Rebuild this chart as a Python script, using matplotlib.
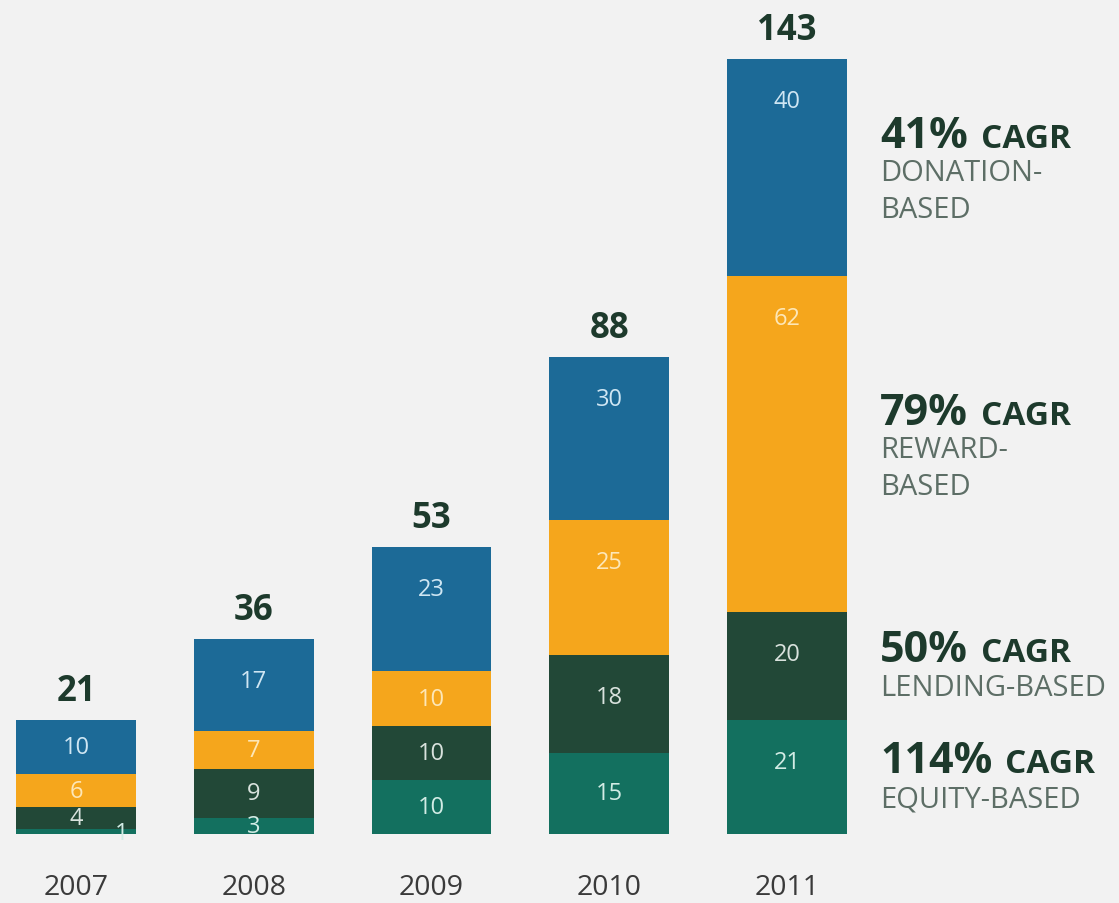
import matplotlib
matplotlib.use("Agg")
import matplotlib.pyplot as plt
import numpy as np

years = ["2007", "2008", "2009", "2010", "2011"]
equity = [1, 3, 10, 15, 21]
lending = [4, 9, 10, 18, 20]
reward = [6, 7, 10, 25, 62]
donation = [10, 17, 23, 30, 40]
totals = [21, 36, 53, 88, 143]

series = [equity, lending, reward, donation]
colors = ["#13705f", "#224837", "#f5a61c", "#1c6a97"]
label_colors = ["#d2ece5", "#d9e2dd", "#fde7b8", "#cfe6f3"]
cagr_pct = ["114%", "50%", "79%", "41%"]
cagr_names = [["EQUITY-BASED"], ["LENDING-BASED"], ["REWARD-", "BASED"], ["DONATION-", "BASED"]]

bg = "#f2f2f2"
plt.rcParams['font.family'] = ['Open Sans', 'DejaVu Sans']

fig = plt.figure(figsize=(11.19, 9.04), dpi=100, facecolor=bg)
ax = fig.add_axes([0, 69/904, 1, 775/904])
ax.set_facecolor(bg)
x = np.arange(len(years))
px_per_unit = 177.75
ax.set_xlim(-76/px_per_unit, (1119-76)/px_per_unit)
ax.set_ylim(0, 143)
for s in ax.spines.values():
    s.set_visible(False)
ax.set_xticks([]); ax.set_yticks([])

bar_w = 0.675
bottom = np.zeros(len(years))
unit_px = 775/143
for si, (vals, c, lc) in enumerate(zip(series, colors, label_colors)):
    vals = np.array(vals, dtype=float)
    ax.bar(x, vals, bottom=bottom, width=bar_w, color=c, edgecolor='none')
    for i, v in enumerate(vals):
        top = bottom[i] + v
        off = min(v/2, 42/unit_px)
        if v * unit_px < 12:
            ax.annotate(f"{int(v)}", xy=(x[i] + bar_w/2, bottom[i] + v/2), xytext=(-14, -2),
                        textcoords='offset pixels', ha='center', va='center',
                        fontsize=17, color=lc)
        else:
            ax.text(x[i], top - off, f"{int(v)}", ha='center', va='center',
                    fontsize=17, color=lc)
    bottom += vals

for i, t in enumerate(totals):
    ax.annotate(f"{t}", xy=(x[i], t), xytext=(0, 20), textcoords='offset pixels',
                ha='center', va='baseline', fontsize=25, fontweight='bold',
                color="#1d3a2c", annotation_clip=False)
    ax.annotate(years[i], xy=(x[i], 0), xytext=(0, -53), textcoords='offset pixels',
                ha='center', va='center', fontsize=20.5, color="#3a3a3a",
                annotation_clip=False)

# CAGR labels beside 2011 bar
lx = (880 - 76) / px_per_unit
fig.canvas.draw()
renderer = fig.canvas.get_renderer()
cum = 0
for si, vals in enumerate(series):
    v = vals[-1]
    mid = cum + v/2
    cum += v
    lines = cagr_names[si]
    if len(lines) == 2:
        head_off = 35
        line_offs = [-2, -39]
    else:
        head_off = 20
        line_offs = [-18]
    base = head_off - 15
    t1 = ax.annotate(cagr_pct[si], xy=(lx, mid), xytext=(0, base), textcoords='offset pixels',
                     ha='left', va='baseline', fontsize=31, fontweight='bold',
                     color="#1d3a2c", annotation_clip=False)
    w = t1.get_window_extent(renderer).width
    ax.annotate("CAGR", xy=(lx, mid), xytext=(w + 13, base), textcoords='offset pixels',
                ha='left', va='baseline', fontsize=24, fontweight='bold', color="#1d3a2c",
                annotation_clip=False)
    for line, lo in zip(lines, line_offs):
        ax.annotate(line, xy=(lx, mid), xytext=(0, lo), textcoords='offset pixels',
                    ha='left', va='center_baseline', fontsize=21, color="#5d6e66",
                    annotation_clip=False)

fig.savefig("out.png", dpi=100, facecolor=bg)
